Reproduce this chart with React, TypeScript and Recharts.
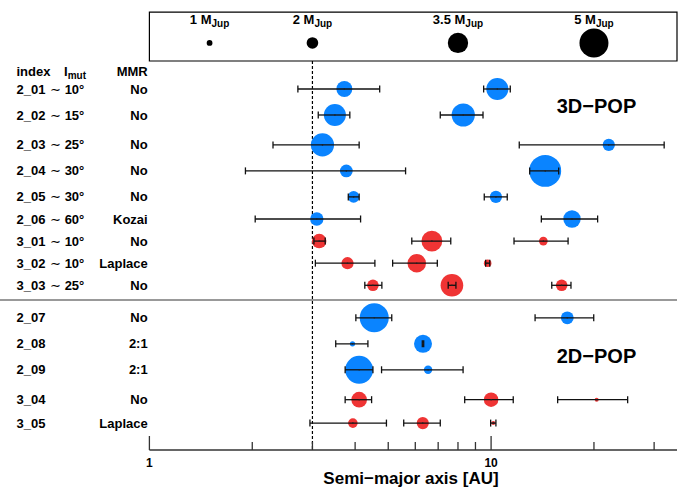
import React from 'react';
import { ScatterChart, Scatter, XAxis, YAxis, ErrorBar, ReferenceLine, ReferenceArea } from 'recharts';

// rows (top to bottom)
const rowIds = ['2_01', '2_02', '2_03', '2_04', '2_05', '2_06', '3_01', '3_02', '3_03', '2_07', '2_08', '2_09', '3_04', '3_05'];
const rowInc = ['10°', '15°', '25°', '30°', '30°', '60°', '10°', '10°', '25°', '', '', '', '', ''];
const rowMMR = ['No', 'No', 'No', 'No', 'No', 'Kozai', 'No', 'Laplace', 'No', 'No', '2:1', '2:1', 'No', 'Laplace'];
const rowPos = [1.0, 2.0, 3.15, 4.15, 5.15, 6.0, 6.85, 7.7, 8.55, 9.8, 10.8, 11.8, 12.95, 13.85];

// planets: row index, semi-major axis [AU], range low/high, mass [MJup]
const planetRow = [0, 0, 1, 1, 2, 2, 3, 3, 4, 4, 5, 5, 6, 6, 6, 7, 7, 7, 8, 8, 8, 9, 9, 10, 10, 11, 11, 12, 12, 12, 13, 13, 13];
const planetA = [3.72, 10.43, 3.49, 8.29, 3.21, 22.1, 3.77, 14.4, 3.96, 10.33, 3.09, 17.25, 3.14, 6.71, 14.22, 3.8, 6.06, 9.77, 4.51, 7.68, 16.09, 4.55, 16.71, 3.93, 6.32, 4.11, 6.54, 4.11, 10.0, 20.37, 3.94, 6.31, 10.15];
const planetLo = [2.72, 9.51, 3.12, 7.1, 2.3, 12.09, 1.91, 12.97, 3.82, 9.55, 2.04, 14.03, 3.03, 5.86, 11.67, 3.06, 5.15, 9.64, 4.27, 7.49, 15.05, 4.02, 13.45, 3.51, 6.29, 3.74, 4.78, 3.74, 8.37, 15.66, 2.95, 5.55, 9.97];
const planetHi = [4.72, 11.38, 3.86, 9.47, 4.11, 32.1, 5.62, 15.77, 4.11, 11.15, 4.15, 20.5, 3.27, 7.62, 16.8, 4.57, 6.96, 9.91, 4.79, 7.89, 17.13, 5.12, 19.97, 4.36, 6.35, 4.51, 8.28, 4.47, 11.61, 25.1, 4.94, 7.1, 10.33];
const planetMass = [2.75, 3.8, 3.8, 4.0, 4.0, 2.1, 2.2, 5.5, 2.0, 2.1, 2.3, 3.0, 2.5, 3.6, 1.5, 2.1, 3.2, 1.3, 2.0, 3.9, 2.0, 5.0, 2.2, 0.9, 3.1, 4.8, 1.45, 2.7, 2.5, 0.7, 1.65, 2.1, 0.7];

// mass legend
const legendMass = [1, 2, 3.5, 5];
const legendA = [1.5, 3, 8, 20];
const legendText = ['1', '2', '3.5', '5'];

const xTicks = [1, 2, 3, 4, 5, 6, 7, 8, 9, 10, 20, 30];

const W = 686;
const H = 488;
const FONT = '"Liberation Sans", Arial, Helvetica, sans-serif';
const BLUE = '#0a84ff';
const RED = '#ef3434';
const R_PER_MJUP = 2.9;
const ROW_PX = 26;
const Y_MIN = -2.3;
const Y_MAX = 14.885;
const PLOT_BOTTOM = 450;
const PLOT_TOP = PLOT_BOTTOM - (Y_MAX - Y_MIN) * ROW_PX;
const LEGEND_Y = -0.77;
const SPLIT_Y = 9.115;
const yPx = (v: number) => PLOT_TOP + (v - Y_MIN) * ROW_PX;

const points = planetRow.map((r, i) => ({
  a: planetA[i],
  y: rowPos[r],
  m: planetMass[i],
  err: [planetA[i] - planetLo[i], planetHi[i] - planetA[i]],
  color: rowIds[r].startsWith('2') ? BLUE : RED,
}));

const legendPoints = legendA.map((a, i) => ({ a, y: LEGEND_Y, m: legendMass[i], label: legendText[i] }));

const Planet = (props: any) => {
  const { cx, cy, payload } = props;
  return <circle cx={cx} cy={cy} r={payload.m * R_PER_MJUP} fill={payload.color} />;
};

// tiny centre mark, like the small plotting dot in the original
const CentreDot = (props: any) => {
  const { cx, cy } = props;
  return <circle cx={cx} cy={cy} r={0.8} fill="#222" />;
};

const LegendDot = (props: any) => {
  const { cx, cy, payload } = props;
  return (
    <g>
      <circle cx={cx} cy={cy} r={payload.m * R_PER_MJUP} fill="#000" />
      <text x={cx} y={cy - 19} textAnchor="middle" fontFamily={FONT} fontWeight="bold" fontSize={13} fill="#000">
        {payload.label} M
        <tspan fontSize={10} dy={3}>Jup</tspan>
      </text>
    </g>
  );
};

const XTick = (props: any) => {
  const { x, y, payload } = props;
  const v = payload.value;
  const major = v === 1 || v === 10;
  return (
    <g>
      <line x1={x} x2={x} y1={y} y2={y - (major ? 14 : 8)} stroke="#333" strokeWidth={1.3} />
      {major && (
        <text x={x} y={y + 17} textAnchor="middle" fontFamily={FONT} fontWeight="bold" fontSize={12} fill="#000">
          {v}
        </text>
      )}
    </g>
  );
};

const RowTick = (props: any) => {
  const { y, index } = props;
  const ty = y + 4.6;
  return (
    <g fontFamily={FONT} fontWeight="bold" fontSize={13} fill="#000">
      <text x={16.5} y={ty}>{rowIds[index]}</text>
      {rowInc[index] && (
        <text x={50} y={ty}>
          <tspan fontWeight="normal">∼</tspan> {rowInc[index]}
        </text>
      )}
      <text x={147.7} y={ty} textAnchor="end">{rowMMR[index]}</text>
    </g>
  );
};

export default function App() {
  return (
    <div style={{ position: 'absolute', left: 0, top: 0, width: W, height: H, background: '#fff' }}>
      <ScatterChart width={W} height={H} margin={{ top: PLOT_TOP, right: 9, bottom: 0, left: 0 }}>
        <XAxis
          dataKey="a"
          type="number"
          scale="log"
          domain={[1, 35]}
          allowDataOverflow
          ticks={xTicks}
          interval={0}
          height={38}
          tickSize={0}
          tickMargin={0}
          tickLine={false}
          axisLine={{ stroke: '#333', strokeWidth: 1.3 }}
          tick={XTick}
        />
        <YAxis
          dataKey="y"
          type="number"
          domain={[Y_MIN, Y_MAX]}
          reversed
          allowDataOverflow
          ticks={rowPos}
          interval={0}
          width={149.4}
          tickSize={0}
          tickMargin={0}
          tickLine={false}
          axisLine={false}
          tick={RowTick}
        />
        <ReferenceArea x1={1} x2={35} y1={-1.96} y2={-0.077} fill="none" fillOpacity={0} stroke="#000" strokeWidth={1.2} />
        <ReferenceLine
          segment={[{ x: 3, y: -0.077 }, { x: 3, y: Y_MAX }]}
          stroke="#000"
          strokeWidth={1.2}
          strokeDasharray="3 2"
        />
        <Scatter data={legendPoints} shape={LegendDot} isAnimationActive={false} />
        <Scatter data={points} shape={Planet} isAnimationActive={false} zIndex={600} />
        <Scatter data={points} shape={CentreDot} isAnimationActive={false} zIndex={800}>
          <ErrorBar dataKey="err" direction="x" width={3.5} stroke="#111" strokeWidth={1.3} isAnimationActive={false} zIndex={700} />
        </Scatter>
        <line x1={0} x2={677} y1={yPx(SPLIT_Y)} y2={yPx(SPLIT_Y)} stroke="#777" strokeWidth={1.6} />
        <g fontFamily={FONT} fontWeight="bold" fill="#000">
          <text x={16.5} y={76.3} fontSize={13}>index</text>
          <text x={64} y={76.3} fontSize={13}>
            I<tspan fontSize={10} dy={3}>mut</tspan>
          </text>
          <text x={147.7} y={76.3} fontSize={13} textAnchor="end">MMR</text>
          <text x={596.5} y={113} fontSize={20} textAnchor="middle">3D−POP</text>
          <text x={596.5} y={362.5} fontSize={20} textAnchor="middle">2D−POP</text>
          <text x={411} y={484} fontSize={17} textAnchor="middle">Semi−major axis [AU]</text>
        </g>
      </ScatterChart>
    </div>
  );
}
